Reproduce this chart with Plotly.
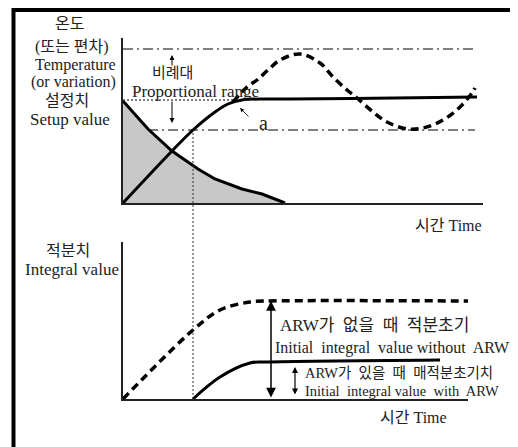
import plotly.graph_objects as go

# page offset: the browser body has an 8px margin, so the figure is drawn 8px in
OFF = 8
W, H = 518 - OFF, 447 - OFF

# ---------------- data (top chart: temperature vs time) ----------------
decay_t = [0, 2.5, 4.9, 7.5, 9.2, 11.9, 13.9, 15.9, 16.2]
decay_v = [102, 74, 52, 34, 24, 14, 9, 1, 0]

rise_t = [0, 4.9, 7.0, 9.2, 10.5, 11.9, 14.2, 16.7, 23.0, 35.4]
rise_v = [0, 52, 73, 91, 99, 103, 104, 104, 104.5, 106]

osc_t = [11.0, 12.4, 13.4, 14.5, 15.7, 17.7, 19.7, 21.0, 22.4, 23.4, 25.0, 26.4,
         28.4, 30.0, 32.0, 33.7, 34.9, 35.2]
osc_v = [101, 116, 123, 133, 143, 149, 140, 126, 113, 105, 91, 81,
         74, 75, 83, 96, 110, 115]

setpoint = 103
band_upper = 154
band_lower = 73
band_t = [0, 35.2]
band_lower_t = [2.5, 35.2]
setpoint_t = [0, 11.0]
switch_t = 7.0

# ---------------- data (bottom chart: integral value vs time) ----------------
int_noarw_t = [0, 7.0, 9.7, 12.7, 14.7, 34.7]
int_noarw_v = [0, 69, 89, 97, 98, 98]

int_arw_t = [7.0, 9.7, 12.7, 14.4, 31.7]
int_arw_v = [0, 22, 36, 37, 39]

FONT = "Liberation Serif, Noto Sans CJK KR, serif"


def px(x):
    return (x - OFF) / W


def py(y):
    return 1 - (y - OFF) / H


fig = go.Figure()

# gray decay area
fig.add_trace(go.Scatter(x=decay_t, y=decay_v, mode="lines", fill="tozeroy",
                         fillcolor="#c8c8c8", line=dict(color="black", width=3),
                         xaxis="x", yaxis="y"))
# band lines
fig.add_trace(go.Scatter(x=band_t, y=[band_upper] * 2, mode="lines",
                         line=dict(color="black", width=1, dash="10px,4px,2px,4px"),
                         xaxis="x", yaxis="y"))
fig.add_trace(go.Scatter(x=band_lower_t, y=[band_lower] * 2, mode="lines",
                         line=dict(color="black", width=1, dash="10px,4px,2px,4px"),
                         xaxis="x", yaxis="y"))
fig.add_trace(go.Scatter(x=setpoint_t, y=[setpoint] * 2, mode="lines",
                         line=dict(color="black", width=1, dash="2px,2px"),
                         xaxis="x", yaxis="y"))
# rising (with ARW) curve
fig.add_trace(go.Scatter(x=rise_t, y=rise_v, mode="lines", line_shape="spline",
                         line=dict(color="black", width=3), xaxis="x", yaxis="y"))
# oscillating (without ARW) curve
fig.add_trace(go.Scatter(x=osc_t, y=osc_v, mode="lines", line_shape="spline",
                         line=dict(color="black", width=3.5, dash="8px,5px"),
                         xaxis="x", yaxis="y"))
# setpoint marker
fig.add_trace(go.Scatter(x=[-0.4], y=[setpoint], mode="markers", cliponaxis=False,
                         marker=dict(symbol="triangle-right", size=10, color="black"),
                         xaxis="x", yaxis="y"))

# bottom chart curves
fig.add_trace(go.Scatter(x=int_noarw_t, y=int_noarw_v, mode="lines", line_shape="spline",
                         line=dict(color="black", width=3.5, dash="8px,5px"),
                         xaxis="x2", yaxis="y2"))
fig.add_trace(go.Scatter(x=int_arw_t, y=int_arw_v, mode="lines", line_shape="spline",
                         line=dict(color="black", width=3), xaxis="x2", yaxis="y2"))

ax_common = dict(showgrid=False, zeroline=False, showticklabels=False, ticks="",
                 showline=True, linecolor="#222", linewidth=2, fixedrange=True)

fig.update_layout(
    width=W, height=H, margin=dict(l=0, r=0, t=0, b=0),
    paper_bgcolor="white", plot_bgcolor="rgba(0,0,0,0)", showlegend=False,
    font=dict(family=FONT, color="#222"),
    xaxis=dict(domain=[px(123), px(483)], range=[0, 36], anchor="y", **ax_common),
    yaxis=dict(domain=[py(203), py(38)], range=[0, 165], anchor="x", **ax_common),
    xaxis2=dict(domain=[px(123), px(468)], range=[0, 34.5], anchor="y2", **ax_common),
    yaxis2=dict(domain=[py(399), py(242)], range=[0, 157], anchor="x2", **ax_common),
)

# frame and vertical switch line
fig.add_shape(type="rect", xref="paper", yref="paper", x0=px(13.5), x1=px(516),
              y0=py(10), y1=-0.1, line=dict(color="black", width=4))
fig.add_shape(type="line", xref="x", yref="paper", x0=switch_t, x1=switch_t,
              y0=py(399), y1=py(130), line=dict(color="#333", width=1, dash="2px,2px"))

ann = []


def text(s, x, y, size=16, anchor="center"):
    ann.append(dict(text=s, x=px(x), y=py(y), xref="paper", yref="paper",
                    showarrow=False, xanchor=anchor, yanchor="middle",
                    font=dict(size=size, family=FONT, color="#222")))


def arrow(x, y, axv, ayv, xr, yr, head=2, size=1.0, width=1.2, both=False):
    d = dict(text="", x=x, y=y, ax=axv, ay=ayv, xref=xr, yref=yr, axref=xr, ayref=yr,
             showarrow=True, arrowhead=head, arrowsize=size, arrowwidth=width,
             arrowcolor="black", standoff=0, startstandoff=0)
    if both:
        d.update(arrowside="end+start", startarrowhead=head, startarrowsize=size)
    ann.append(d)


# left labels (top)
text("온도", 69, 24, 16)
text("(또는 편차)", 72, 47, 16)
text("Temperature", 75, 65, 16)
text("(or variation)", 73, 82, 16)
text("설정치", 67, 100, 16)
text("Setup value", 70, 119, 17)
# proportional range
text("비례대", 172, 73, 15)
text("Proportional range", 130, 91, 17, "left")
text("a", 263, 123, 20)
text("시간 Time", 448, 226, 16)
# bottom labels
text("적분치", 68, 250, 16)
text("Integral value", 72, 269, 17)
text("ARW가  없을  때  적분초기", 278, 325, 17, "left")
text("Initial  integral  value without  ARW", 273, 348, 16, "left")
text("ARW가  있을  때  매적분초기치", 303, 373, 14.5, "left")
text("Initial  integral value  with  ARW", 303, 391, 14.5, "left")
text("시간 Time", 413, 417, 16)

# arrows top
arrow(4.9, 148, 4.9, 136, "x", "y", head=2, size=1, width=1)
arrow(4.9, 80, 4.9, 103, "x", "y", head=2, size=1, width=1)
arrow(11.7, 95, 12.7, 85, "x", "y", head=2, size=1, width=0.8)
# arrows bottom
arrow(14.8, 98, 14.8, 0, "x2", "y2", head=2, size=1.3, width=1.5, both=True)
arrow(17.2, 32, 17.2, 3, "x2", "y2", head=2, size=1, width=1.2, both=True)

fig.update_layout(annotations=ann)

fig.write_html("out.html")
